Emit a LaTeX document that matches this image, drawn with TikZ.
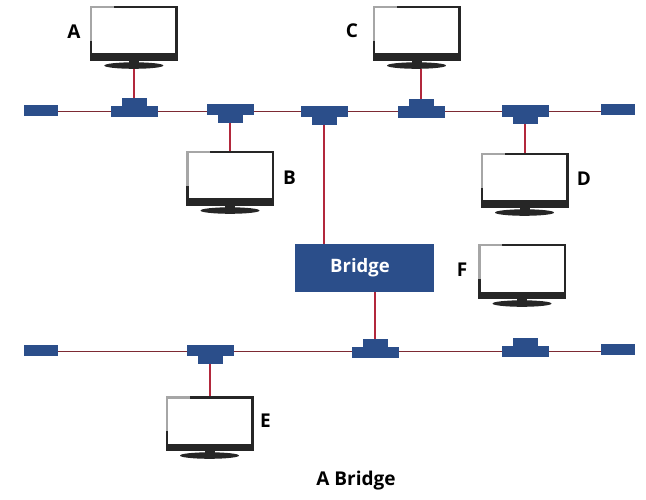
\documentclass[tikz,border=0pt]{standalone}
\usepackage{fontspec}
\setmainfont{Open Sans}
\usetikzlibrary{positioning,shapes.geometric}
\definecolor{tapblue}{HTML}{2B4E8A}
\definecolor{wirered}{HTML}{B2283C}
\definecolor{busred}{HTML}{7D2A33}
\definecolor{mondark}{HTML}{262626}
\newcommand{\monitor}[3]{%
  \node[screen] (#1) at (#2,#3) {};
  \node[monbar, below=0pt of #1] (#1bar) {};
  \node[monneck, below=0pt of #1bar] (#1neck) {};
  \node[monbase, below=-2.7pt of #1neck] (#1base) {};
  \draw[monglare] ([xshift=1.25pt,yshift=-1.25pt]#1.north west) ++(23pt,0) -- ++(-23pt,0) -- ++(0,-34pt);
}
\begin{document}
\begin{tikzpicture}[
    x=1pt, y=-1pt,
    node distance=0pt,
    screen/.style={rectangle, draw=mondark, line width=2.5pt, fill=white, minimum width=85.5pt, minimum height=47.5pt, inner sep=0pt, outer sep=1.25pt},
    monbar/.style={rectangle, fill=mondark, minimum width=88pt, minimum height=5pt, inner sep=0pt, outer sep=0pt},
    monneck/.style={rectangle, fill=black!85, minimum width=10pt, minimum height=4pt, inner sep=0pt, outer sep=0pt},
    monbase/.style={ellipse, fill=black!85, minimum width=59pt, minimum height=6.5pt, inner sep=0pt, outer sep=0pt},
    monglare/.style={draw=black!35, line width=2.5pt},
    tapbar/.style={rectangle, fill=tapblue, minimum width=47pt, minimum height=11.5pt, inner sep=0pt, outer sep=0pt},
    tapnub/.style={rectangle, fill=tapblue, minimum width=25pt, minimum height=7.5pt, inner sep=0pt, outer sep=0pt},
    busend/.style={rectangle, fill=tapblue, minimum width=34pt, minimum height=11pt, inner sep=0pt, outer sep=0pt},
    bridgebox/.style={rectangle, fill=tapblue, text=white, minimum width=139pt, minimum height=48pt, font=\fontsize{18.5}{22}\selectfont\bfseries},
    bus/.style={draw=busred, line width=1pt},
    wire/.style={draw=wirered, line width=1.6pt},
    lbl/.style={font=\fontsize{19}{22}\selectfont\bfseries, text=black, inner sep=0pt},
]
\useasboundingbox (0,0) rectangle (646,500);

% Upper segment
\node[busend] (endUL) at (41,110.5) {};
\node[busend] (endUR) at (618,109.5) {};
\node[tapbar] (tapA) at (134,111.5) {};
\node[tapnub, above=of tapA] (nubA) {};
\node[tapbar] (tapB) at (230,109.5) {};
\node[tapnub, below=of tapB] (nubB) {};
\node[tapbar] (tapBr) at (324,111.5) {};
\node[tapnub, below=of tapBr] (nubBr) {};
\node[tapbar] (tapC) at (421,112) {};
\node[tapnub, above=of tapC] (nubC) {};
\node[tapbar] (tapD) at (525,111) {};
\node[tapnub, below=of tapD] (nubD) {};

% Lower segment
\node[busend] (endLL) at (41,350.5) {};
\node[busend] (endLR) at (618,349.5) {};
\node[tapbar] (tapE) at (210,350.5) {};
\node[tapnub, below=of tapE] (nubE) {};
\node[tapbar] (tapLo) at (375,352.5) {};
\node[tapnub, above=of tapLo] (nubLo) {};
\node[tapbar] (tapF) at (525,351.5) {};
\node[tapnub, above=of tapF] (nubF) {};

% Bridge
\node[bridgebox] (bridge) at (364.5,268) {\hspace*{-9pt}\raisebox{-3pt}{Bridge}};

% Monitors
\monitor{monA}{133.8}{31}
\monitor{monB}{230}{176}
\monitor{monC}{416.5}{31}
\monitor{monD}{524.5}{178}
\monitor{monF}{522}{269}
\monitor{monE}{209.5}{421}

% Labels
\node[lbl] (lblA) at (74,32) {A};
\node[lbl] (lblB) at (289.5,178) {B};
\node[lbl] (lblC) at (352,31) {C};
\node[lbl] (lblD) at (584,179) {D};
\node[lbl] (lblE) at (265.5,421) {E};
\node[lbl] (lblF) at (462,270) {F};
\node[lbl] (caption) at (356,480.5) {A Bridge};

% Bus lines
\draw[bus] (endUL.east |- tapA) -- (tapA.west);
\draw[bus] (tapA.east) -- (tapA.east -| tapB.west);
\draw[bus] (tapB.east |- tapA) -- (tapBr.west);
\draw[bus] (tapBr.east) -- (tapBr.east -| tapC.west);
\draw[bus] (tapC.east |- tapA) -- (tapD.west |- tapA);
\draw[bus] (tapD.east |- tapA) -- (endUR.west |- tapA);
\draw[bus] (endLL.east |- tapF) -- (tapE.west |- tapF);
\draw[bus] (tapE.east |- tapF) -- (tapLo.west |- tapF);
\draw[bus] (tapLo.east |- tapF) -- (tapF.west);
\draw[bus] (tapF.east) -- (endLR.west |- tapF);

% Drops
\draw[wire] (monAbase.south -| nubA) -- (nubA);
\draw[wire] (nubB) -- (nubB |- monB.north);
\draw[wire] (monCbase.south -| nubC) -- (nubC);
\draw[wire] (nubD) -- (nubD |- monD.north);
\draw[wire] (nubE) -- (nubE |- monE.north);
\draw[wire] (nubBr) -- (nubBr |- bridge.north);
\draw[wire] (bridge.south -| nubLo) -- (nubLo);
\end{tikzpicture}
\end{document}
